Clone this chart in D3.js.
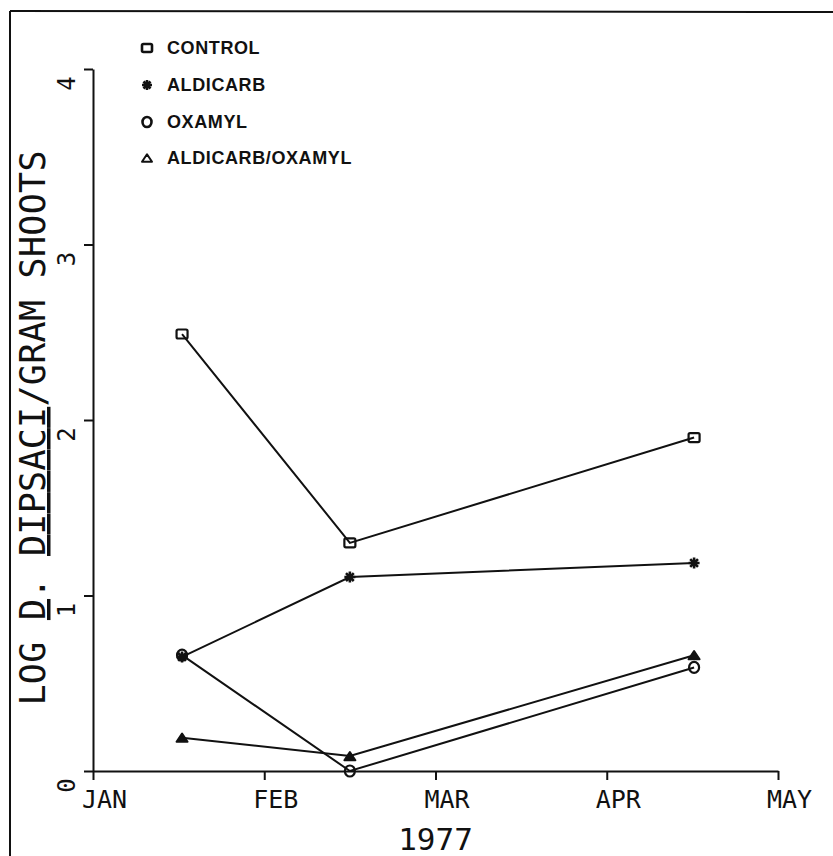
<!DOCTYPE html>
<html lang="en">
<head>
    <meta charset="UTF-8">
    <title>Log D. dipsaci / gram shoots, 1977</title>
    <script src="https://d3js.org/d3.v7.min.js"></script>
    <style>
        body { margin: 0; background: #fff; }
        .plot-text { font-family: "DejaVu Sans Mono", monospace; fill: #111; }
        .legend-text { font-family: "Liberation Sans", Arial, sans-serif; font-weight: bold; font-size: 18px; letter-spacing: 0.6px; fill: #111; }
    </style>
</head>
<body>
<svg id="chart" width="833" height="856"></svg>
<script>
    // Data (x = months after 1 Jan, y = log D. dipsaci / gram shoots)
    const months = ["JAN", "FEB", "MAR", "APR", "MAY"];
    const yTicks = [0, 1, 2, 3, 4];
    const sampleDates = [0.52, 1.5, 3.51];
    const seriesNames = ["CONTROL", "ALDICARB", "OXAMYL", "ALDICARB/OXAMYL"];
    const control = [2.49, 1.30, 1.90];
    const aldicarb = [0.65, 1.105, 1.185];
    const oxamyl = [0.66, 0.0, 0.59];
    const aldicarbOxamyl = [0.19, 0.085, 0.66];

    const svg = d3.select("#chart");
    const ink = "#111";

    // frame (scan shows top and left edges only)
    svg.append("line").attr("x1", 10).attr("y1", 11).attr("x2", 833).attr("y2", 12)
        .attr("stroke", ink).attr("stroke-width", 2);
    svg.append("line").attr("x1", 10).attr("y1", 11).attr("x2", 10).attr("y2", 856)
        .attr("stroke", ink).attr("stroke-width", 2);

    const x = d3.scaleLinear().domain([0, 4]).range([93, 778]);
    const y = d3.scaleLinear().domain([0, 4]).range([771, 69]);

    // y axis
    const yAxis = svg.append("g")
        .attr("transform", `translate(${x(0)},0)`)
        .call(d3.axisLeft(y).tickValues(yTicks).tickSize(9).tickSizeOuter(0).tickFormat(""));
    yAxis.selectAll("path, line").attr("stroke", ink).attr("stroke-width", 2);
    yAxis.selectAll(".tick").append("text")
        .attr("class", "plot-text")
        .attr("transform", "translate(-26,14) rotate(-90)")
        .attr("text-anchor", "middle")
        .attr("dominant-baseline", "central")
        .attr("font-size", 24)
        .attr("fill", ink)
        .text(d => d);

    // x axis
    const xAxis = svg.append("g")
        .attr("transform", `translate(0,${y(0)})`)
        .call(d3.axisBottom(x).tickValues(d3.range(months.length)).tickSize(9).tickSizeOuter(0).tickFormat(""));
    xAxis.selectAll("path, line").attr("stroke", ink).attr("stroke-width", 2);
    xAxis.selectAll(".tick").append("text")
        .attr("class", "plot-text")
        .attr("x", 11)
        .attr("y", 37)
        .attr("text-anchor", "middle")
        .attr("font-size", 25)
        .attr("fill", ink)
        .text(d => months[d]);

    svg.append("text")
        .attr("class", "plot-text")
        .attr("x", x(2))
        .attr("y", 850)
        .attr("text-anchor", "middle")
        .attr("font-size", 31)
        .text("1977");

    // y axis title with underlined genus / species
    const yTitle = svg.append("text")
        .attr("class", "plot-text")
        .attr("transform", "translate(45,428) rotate(-90)")
        .attr("text-anchor", "middle")
        .attr("font-size", 35)
        .attr("textLength", 555)
        .attr("lengthAdjust", "spacing");
    yTitle.append("tspan").text("LOG ");
    yTitle.append("tspan").style("text-decoration", "underline").text("D");
    yTitle.append("tspan").text(". ");
    yTitle.append("tspan").style("text-decoration", "underline").text("DIPSACI");
    yTitle.append("tspan").text("/GRAM SHOOTS");

    // markers
    function asteriskPath(r) {
        const p = d3.path();
        for (let i = 0; i < 4; i++) {
            const a = i * Math.PI / 4;
            p.moveTo(-r * Math.cos(a), -r * Math.sin(a));
            p.lineTo(r * Math.cos(a), r * Math.sin(a));
        }
        return p.toString();
    }
    function drawMarker(g, kind, size, inData) {
        const sw = inData ? 2.2 : 2.6;
        if (kind === 0) {
            g.append("rect").attr("x", -size / 2).attr("y", -size / 2 + 1)
                .attr("width", size).attr("height", size - 2).attr("rx", 1.5)
                .attr("fill", inData ? "none" : "#fff").attr("stroke", ink).attr("stroke-width", sw);
        } else if (kind === 1) {
            g.append("path").attr("d", asteriskPath(size / 2))
                .attr("stroke", ink).attr("stroke-width", 2.6).attr("fill", "none");
        } else if (kind === 2) {
            g.append("ellipse").attr("rx", size / 2 - 0.5).attr("ry", size / 2)
                .attr("fill", inData ? "none" : "#fff").attr("stroke", ink).attr("stroke-width", sw);
        } else {
            const h = size * 0.75;
            g.append("path")
                .attr("d", `M${-size / 2},${h / 2}L${size / 2},${h / 2}L0,${-h / 2}Z`)
                .attr("fill", inData ? ink : "#fff").attr("stroke", ink)
                .attr("stroke-width", 2).attr("stroke-linejoin", "round");
        }
    }

    const allSeries = [control, aldicarb, oxamyl, aldicarbOxamyl];
    const line = d3.line().x((d, i) => x(sampleDates[i])).y(d => y(d));

    allSeries.forEach(vals => {
        svg.append("path").datum(vals)
            .attr("d", line)
            .attr("fill", "none")
            .attr("stroke", ink)
            .attr("stroke-width", 2);
    });
    allSeries.forEach((vals, k) => {
        vals.forEach((v, i) => {
            const g = svg.append("g").attr("transform", `translate(${x(sampleDates[i])},${y(v)})`);
            drawMarker(g, k, 11, true);
        });
    });

    // legend
    const legendY = [48, 85, 122, 158];
    seriesNames.forEach((name, k) => {
        const g = svg.append("g").attr("transform", `translate(147,${legendY[k]})`);
        drawMarker(g, k, 10, false);
        svg.append("text")
            .attr("class", "legend-text")
            .attr("x", 167)
            .attr("y", legendY[k])
            .attr("dominant-baseline", "central")
            .text(name);
    });
</script>
</body>
</html>
